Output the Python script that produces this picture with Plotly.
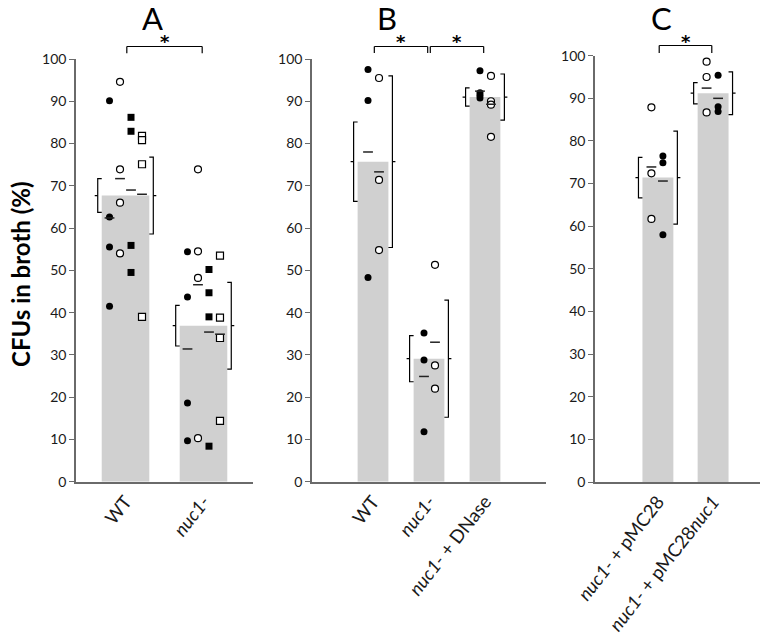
import plotly.graph_objects as go

W, H = 764, 644

# ---------------- Panel A ----------------
A_categories = ["WT", "<i>nuc1-</i>"]
A_bar = [67.7, 36.9]
A_sem = [4.0, 4.8]
A_sd = [9.1, 10.25]
A_filled_circle = [[90.1, 62.6, 55.5, 41.5], [54.4, 43.7, 18.6, 9.7]]
A_open_circle = [[94.6, 73.9, 66.0, 54.0], [73.9, 54.5, 48.2, 10.3]]
A_filled_square = [[86.2, 82.9, 55.9, 49.5], [50.2, 44.7, 39.0, 8.4]]
A_open_square = [[81.8, 80.8, 75.1, 39.0], [53.5, 38.8, 34.0, 14.4]]
A_mean_filled_circle = [62.4, 31.4]
A_mean_open_circle = [71.7, 46.6]
A_mean_filled_square = [69.0, 35.4]
A_mean_open_square = [68.0, 34.9]

# ---------------- Panel B ----------------
B_categories = ["WT", "<i>nuc1-</i>", "<i>nuc1-</i> + DNase"]
B_bar = [75.7, 29.1, 91.0]
B_sem = [9.4, 5.45, 2.15]
B_sd = [20.3, 13.85, 5.45]
B_filled_circle = [[97.5, 90.2, 48.3], [35.2, 28.8, 11.8], [97.2, 92.0, 91.4, 90.8]]
B_open_circle = [[95.5, 71.4, 54.8], [51.3, 27.5, 22.0], [96.0, 90.0, 89.2, 81.6]]
B_mean_filled_circle = [78.0, 24.9, 92.4]
B_mean_open_circle = [73.3, 33.0, 89.3]

# ---------------- Panel C ----------------
C_categories = ["<i>nuc1-</i> + pMC28", "<i>nuc1-</i> + pMC28<i>nuc1</i>"]
C_bar = [71.4, 91.2]
C_sem = [4.75, 2.5]
C_sd = [10.9, 5.0]
C_open_circle = [[87.9, 72.4, 61.7], [98.6, 95.0, 86.7]]
C_filled_circle = [[76.5, 74.9, 58.0], [95.4, 88.0, 86.9]]
C_mean_open_circle = [73.9, 92.4]
C_mean_filled_circle = [70.6, 90.0]

# significance comparisons (category index pairs)
A_sig = [(0, 1)]
B_sig = [(0, 1), (1, 2)]
C_sig = [(0, 1)]

panel_letters = ["A", "B", "C"]
y_ticks = list(range(0, 101, 10))

FONT = "Lato, 'Open Sans', Arial, sans-serif"
AXIS_COLOR = "#6a6a6a"
BAR_COLOR = "#d0d0d0"

STYLES = {
    "filled_circle": dict(symbol="circle", color="black", line=dict(width=0)),
    "open_circle": dict(symbol="circle", color="white", line=dict(width=1.2, color="black")),
    "filled_square": dict(symbol="square", color="black", line=dict(width=0)),
    "open_square": dict(symbol="square", color="white", line=dict(width=1.2, color="black")),
}

panels = [
    dict(xa="x", ya="y", px=(76, 253), py=(481.7, 59), rng=(-0.635, 1.635),
         cats=A_categories, bar=A_bar, sem=A_sem, sd=A_sd, bw=0.61,
         series=[("filled_circle", A_filled_circle, A_mean_filled_circle, -16),
                 ("open_circle", A_open_circle, A_mean_open_circle, -5.5),
                 ("filled_square", A_filled_square, A_mean_filled_square, 5.5),
                 ("open_square", A_open_square, A_mean_open_square, 16.5)],
         sig=A_sig, sig_y=(46.5, 53.3), star_y=37, letter_x=152),
    dict(xa="x2", ya="y2", px=(312, 546), py=(481.7, 59), rng=(-1.09, 3.09),
         cats=B_categories, bar=B_bar, sem=B_sem, sd=B_sd, bw=0.55,
         series=[("filled_circle", B_filled_circle, B_mean_filled_circle, -5),
                 ("open_circle", B_open_circle, B_mean_open_circle, 6)],
         sig=B_sig, sig_y=(46.5, 53), star_y=37, letter_x=387),
    dict(xa="x3", ya="y3", px=(595, 760), py=(482, 55.7), rng=(-1.14, 1.85),
         cats=C_categories, bar=C_bar, sem=C_sem, sd=C_sd, bw=0.56,
         series=[("open_circle", C_open_circle, C_mean_open_circle, -6.5),
                 ("filled_circle", C_filled_circle, C_mean_filled_circle, 5)],
         sig=C_sig, sig_y=(45.5, 53), star_y=37, letter_x=661),
]

fig = go.Figure()
layout = dict(width=W, height=H, autosize=False, showlegend=False,
              margin=dict(l=0, r=0, t=0, b=0, pad=0),
              plot_bgcolor="white", paper_bgcolor="white",
              font=dict(family=FONT, color="#1a1a1a"))
shapes = []
annotations = []

for p in panels:
    xa, ya = p["xa"], p["ya"]
    kx = (p["px"][1] - p["px"][0]) / (p["rng"][1] - p["rng"][0])  # px per data unit
    n = len(p["cats"])
    xs = list(range(n))
    hw = p["bw"] / 2

    fig.add_trace(go.Bar(x=xs, y=p["bar"], width=p["bw"], marker=dict(color=BAR_COLOR, line=dict(width=0)),
                         xaxis=xa, yaxis=ya, hoverinfo="skip"))

    # individual points and per-series mean dashes
    for style, vals, means, off in p["series"]:
        px_, py_ = [], []
        for i, grp in enumerate(vals):
            for v in grp:
                px_.append(i + off / kx)
                py_.append(v)
        st = STYLES[style]
        fig.add_trace(go.Scatter(x=px_, y=py_, mode="markers", xaxis=xa, yaxis=ya, cliponaxis=False,
                                 marker=dict(symbol=st["symbol"], size=7, color=st["color"], line=st["line"])))
        fig.add_trace(go.Scatter(x=[i + off / kx for i in range(n)], y=means, mode="markers",
                                 xaxis=xa, yaxis=ya, cliponaxis=False,
                                 marker=dict(symbol="line-ew", size=7, line=dict(width=1.5, color="#222"))))

    # brackets: left = SEM, right = SD
    bx, by = [], []
    for i in range(n):
        m, s, d = p["bar"][i], p["sem"][i], p["sd"][i]
        le = i - hw
        xl = le - 4 / kx
        bx += [le, xl, xl, le, None, xl, xl - 3 / kx, None]
        by += [m + s, m + s, m - s, m - s, None, m, m, None]
        re_ = i + hw
        xr = re_ + 4 / kx
        bx += [re_, xr, xr, re_, None, xr, xr + 3 / kx, None]
        by += [m + d, m + d, m - d, m - d, None, m, m, None]
    fig.add_trace(go.Scatter(x=bx, y=by, mode="lines", xaxis=xa, yaxis=ya,
                             line=dict(color="black", width=1.2), hoverinfo="skip"))

    # axes
    xd = [p["px"][0] / W, p["px"][1] / W]
    yd = [(H - p["py"][0]) / H, (H - p["py"][1]) / H]
    xkey = "xaxis" if xa == "x" else "xaxis" + xa[1:]
    ykey = "yaxis" if ya == "y" else "yaxis" + ya[1:]
    layout[xkey] = dict(domain=xd, range=list(p["rng"]), anchor=ya, tickmode="array", tickvals=xs,
                        ticktext=p["cats"], tickangle=-52, showline=True, linecolor=AXIS_COLOR, linewidth=1.5,
                        ticks="", showgrid=False, zeroline=False, automargin=False,
                        tickfont=dict(family=FONT, size=18.5, color="#1a1a1a"), fixedrange=True)
    layout[ykey] = dict(domain=yd, range=[0, 100], anchor=xa, tickmode="array", tickvals=y_ticks,
                        showline=True, linecolor=AXIS_COLOR, linewidth=1.5, ticks="outside", ticklen=5,
                        tickcolor=AXIS_COLOR, tickwidth=1.3, showgrid=False, zeroline=False, automargin=False,
                        tickfont=dict(family=FONT, size=14, color="#1a1a1a"), fixedrange=True)

    # significance brackets
    ytop = (H - p["sig_y"][0]) / H
    ybot = (H - p["sig_y"][1]) / H
    for (a, b) in p["sig"]:
        x0 = a + 1.3 / kx
        x1 = b - 1.3 / kx
        for (u0, v0, u1, v1) in [(x0, ybot, x0, ytop), (x0, ytop, x1, ytop), (x1, ytop, x1, ybot)]:
            shapes.append(dict(type="line", xref=xa, yref="paper", x0=u0, y0=v0, x1=u1, y1=v1,
                               line=dict(color="black", width=1.2)))
        annotations.append(dict(xref=xa, yref="paper", x=(a + b) / 2, y=(H - p["star_y"]) / H,
                                text="<b>*</b>", showarrow=False, height=12, valign="top",
                                font=dict(family="'DejaVu Sans', sans-serif", size=18, color="black"),
                                xanchor="center", yanchor="middle"))

for p, letter in zip(panels, panel_letters):
    annotations.append(dict(xref="paper", yref="paper", x=p["letter_x"] / W, y=(H - 18) / H,
                            text=letter, showarrow=False, height=24, valign="middle",
                            font=dict(family=FONT, size=31, color="black"),
                            xanchor="center", yanchor="middle"))

annotations.append(dict(xref="paper", yref="paper", x=20 / W, y=(H - 274) / H, text="<b>CFUs in broth (%)</b>",
                        textangle=-90, showarrow=False, font=dict(family=FONT, size=24, color="black"),
                        xanchor="center", yanchor="middle"))

layout["shapes"] = shapes
layout["annotations"] = annotations
fig.update_layout(**layout)
fig.write_html("out.html", config={"displayModeBar": False},
               post_script="document.body.style.margin='0px';document.body.style.padding='0px';")
